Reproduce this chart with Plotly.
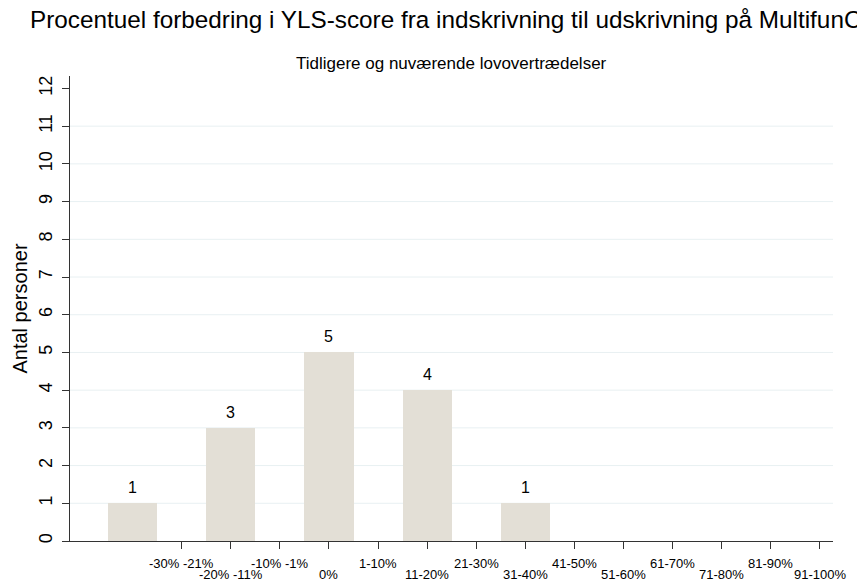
import plotly.graph_objects as go

# ---- data ----
bar_positions = [0, 2, 4, 6, 8]
counts = [1, 3, 5, 4, 1]
tick_positions = list(range(1, 15))
tick_labels = ["-30% -21%", "-20% -11%", "-10% -1%", "0%", "1-10%", "11-20%",
               "21-30%", "31-40%", "41-50%", "51-60%", "61-70%", "71-80%",
               "81-90%", "91-100%"]
y_ticks = list(range(0, 13))
grid_values = list(range(1, 12))

title_text = "Procentuel forbedring i YLS-score fra indskrivning til udskrivning på MultifunC"
subtitle_text = "Tidligere og nuværende lovovertrædelser"
y_title = "Antal personer"

FONT = "Arial, Liberation Sans, sans-serif"
AX = "#333333"
XR = [-1.277, 14.27]
YR = [0, 12.33]

fig = go.Figure()
fig.add_trace(go.Bar(
    x=bar_positions, y=counts, width=1.0,
    marker=dict(color="#E3DFD6", line=dict(width=0)),
    hoverinfo="skip", showlegend=False,
))

# horizontal grid lines (not at axis ends)
for v in grid_values:
    fig.add_shape(type="line", xref="paper", x0=0, x1=1, yref="y", y0=v, y1=v,
                  line=dict(color="#E8F0F2", width=1), layer="below")

# value labels above bars
for p, c in zip(bar_positions, counts):
    fig.add_annotation(x=p, y=c, xref="x", yref="y", text=str(c),
                       showarrow=False, yanchor="bottom", yshift=5,
                       font=dict(family=FONT, size=16, color="black"))

# staggered category labels
for p, lab in zip(tick_positions, tick_labels):
    fig.add_annotation(x=p, y=0, xref="x", yref="paper", text=lab,
                       showarrow=False, yanchor="middle",
                       yshift=-22 if p % 2 == 1 else -33,
                       font=dict(family=FONT, size=13, color="black"))

fig.add_annotation(x=0.5, y=1, xref="paper", yref="paper", text=subtitle_text,
                   showarrow=False, yanchor="middle", yshift=13,
                   font=dict(family=FONT, size=17, color="black"))

fig.update_layout(
    width=857, height=582,
    margin=dict(l=70, r=24, t=76, b=41),
    paper_bgcolor="white", plot_bgcolor="white",
    font=dict(family=FONT, color="black"),
    title=dict(text=title_text, xref="container", x=30/857, xanchor="left",
               yref="container", y=1 - 19/582, yanchor="middle",
               font=dict(family=FONT, size=24.3, color="black")),
    bargap=0,
    xaxis=dict(range=XR, tickvals=tick_positions, showticklabels=False,
               ticks="outside", ticklen=7, tickcolor=AX, tickwidth=1,
               showline=True, linecolor=AX, linewidth=1,
               showgrid=False, zeroline=False, automargin=False),
    yaxis=dict(range=YR, tickvals=y_ticks, ticks="outside", ticklen=7,
               tickcolor=AX, tickwidth=1, tickangle=-90, ticklabelstandoff=3,
               showgrid=False, showline=True, linecolor=AX, linewidth=1,
               zeroline=False, automargin=False,
               tickfont=dict(family=FONT, size=18, color="black"),
               title=dict(text=y_title, standoff=2,
                          font=dict(family=FONT, size=20, color="black"))),
)

fig.write_html("out.html", config={"displayModeBar": False},
               post_script="document.body.style.margin='0';")
